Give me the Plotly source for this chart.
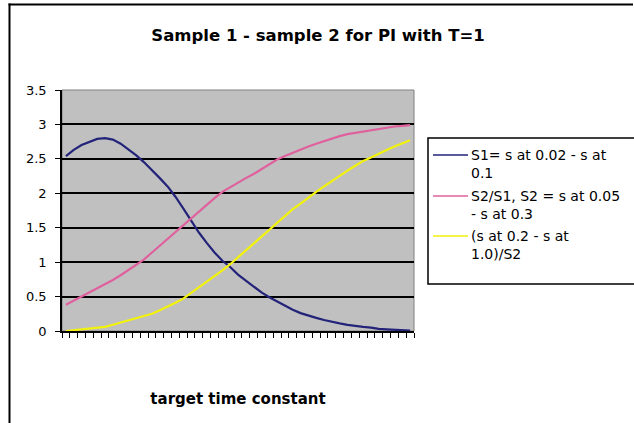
import plotly.graph_objects as go

categories = list(range(45))
s1 = [2.54, 2.63, 2.70, 2.75, 2.79, 2.80, 2.78, 2.72, 2.64, 2.55,
      2.45, 2.34, 2.22, 2.10, 1.95, 1.78, 1.60, 1.43, 1.28, 1.14,
      1.02, 0.93, 0.82, 0.73, 0.64, 0.56, 0.49, 0.43, 0.36, 0.31,
      0.26, 0.22, 0.19, 0.16, 0.13, 0.11, 0.09, 0.07, 0.06, 0.05,
      0.03, 0.025, 0.02, 0.01, 0.005]
s2_over_s1 = [0.38, 0.44, 0.50, 0.55, 0.61, 0.67, 0.74, 0.81, 0.89, 0.96,
              1.04, 1.14, 1.24, 1.34, 1.44, 1.54, 1.64, 1.73, 1.83, 1.93,
              2.02, 2.09, 2.16, 2.22, 2.28, 2.35, 2.42, 2.49, 2.54, 2.59,
              2.63, 2.68, 2.72, 2.76, 2.79, 2.83, 2.86, 2.88, 2.90, 2.92,
              2.94, 2.95, 2.97, 2.98, 2.99]
s3 = [0.0, 0.01, 0.02, 0.03, 0.045, 0.06, 0.09, 0.12, 0.15, 0.18,
      0.21, 0.25, 0.30, 0.35, 0.41, 0.47, 0.55, 0.63, 0.71, 0.80,
      0.88, 0.97, 1.07, 1.17, 1.28, 1.38, 1.48, 1.57, 1.67, 1.77,
      1.85, 1.94, 2.02, 2.10, 2.18, 2.26, 2.33, 2.40, 2.47, 2.52,
      2.58, 2.63, 2.68, 2.73, 2.77]
names = ["S1= s at 0.02 - s at<br>0.1",
         "S2/S1, S2 = s at 0.05<br>- s at 0.3",
         "(s at 0.2 - s at<br>1.0)/S2"]
colors = ["#23237a", "#e0609e", "#f2f20a"]
ytick_vals = [0, 0.5, 1, 1.5, 2, 2.5, 3, 3.5]
ytick_text = ["0", "0.5", "1", "1.5", "2", "2.5", "3", "3.5"]

FONT = "DejaVu Sans, Arial"
W, H = 634, 423
L, R, T, B = 62, 414, 90, 331
pw, ph = R - L, B - T

def px(x):
    return (x - L) / pw

def py(y):
    return (B - y) / ph

fig = go.Figure()
for vals, nm, c in zip([s1, s2_over_s1, s3], names, colors):
    fig.add_trace(go.Scatter(x=categories, y=vals, mode="lines", name=nm,
                             line=dict(color=c, width=2.2), showlegend=False))

shapes = []
shapes.append(dict(type="rect", xref="paper", yref="paper", x0=0, x1=1, y0=0, y1=1,
                   line=dict(color="#808080", width=1), layer="below"))
# outer chart frame: left and top edges drawn as thin filled bars
shapes.append(dict(type="rect", xref="paper", yref="paper", x0=px(8.5), x1=px(10.5),
                   y0=py(423), y1=py(3.5), line=dict(width=0), fillcolor="black"))
shapes.append(dict(type="rect", xref="paper", yref="paper", x0=px(8.5), x1=px(633),
                   y0=py(5.5), y1=py(3.5), line=dict(width=0), fillcolor="black"))
shapes.append(dict(type="rect", xref="paper", yref="paper", x0=px(428), x1=px(660),
                   y0=py(284), y1=py(138), line=dict(color="black", width=1.5),
                   fillcolor="white"))

annotations = []
item_y = [155, 196, 236]
for yy, nm, c in zip(item_y, names, colors):
    shapes.append(dict(type="line", xref="paper", yref="paper", x0=px(433), x1=px(468),
                       y0=py(yy), y1=py(yy), line=dict(color=c, width=1.5)))
    annotations.append(dict(xref="paper", yref="paper", x=px(469), y=py(yy - 10),
                            xanchor="left", yanchor="top", text=nm, showarrow=False,
                            align="left",
                            font=dict(family=FONT, size=14, color="black")))

fig.update_layout(
    width=W, height=H,
    margin=dict(l=L, r=W - R, t=T, b=H - B),
    paper_bgcolor="white",
    plot_bgcolor="#c0c0c0",
    title=dict(text="<b>Sample 1 - sample 2 for PI with T=1</b>",
               x=318 / W, xanchor="center", y=1 - 35 / H, yanchor="middle",
               font=dict(family=FONT, size=16.5, color="black")),
    shapes=shapes,
    annotations=annotations,
    showlegend=False,
    font=dict(family=FONT, size=13, color="black"),
)
fig.update_xaxes(range=[-0.5, 44.5], tickmode="array",
                 tickvals=[i - 0.5 for i in range(46)], showticklabels=False,
                 ticks="outside", ticklen=5, tickcolor="black", tickwidth=1,
                 showline=True, linecolor="black", linewidth=1.5, showgrid=False,
                 zeroline=False,
                 title=dict(text="<b>target time constant</b>", standoff=57,
                            font=dict(size=15, family=FONT)))
fig.update_yaxes(range=[0, 3.5], tickmode="array", tickvals=ytick_vals, ticktext=ytick_text,
                 ticks="outside", ticklen=5, tickcolor="black", tickwidth=1,
                 showline=True, linecolor="black", linewidth=1.5,
                 showgrid=True, gridcolor="black", gridwidth=1.5, zeroline=False,
                 ticklabelstandoff=6,
                 tickfont=dict(size=13, family=FONT))

fig.write_html("out.html", config={"displayModeBar": False},
               post_script="document.body.style.margin='0';")
